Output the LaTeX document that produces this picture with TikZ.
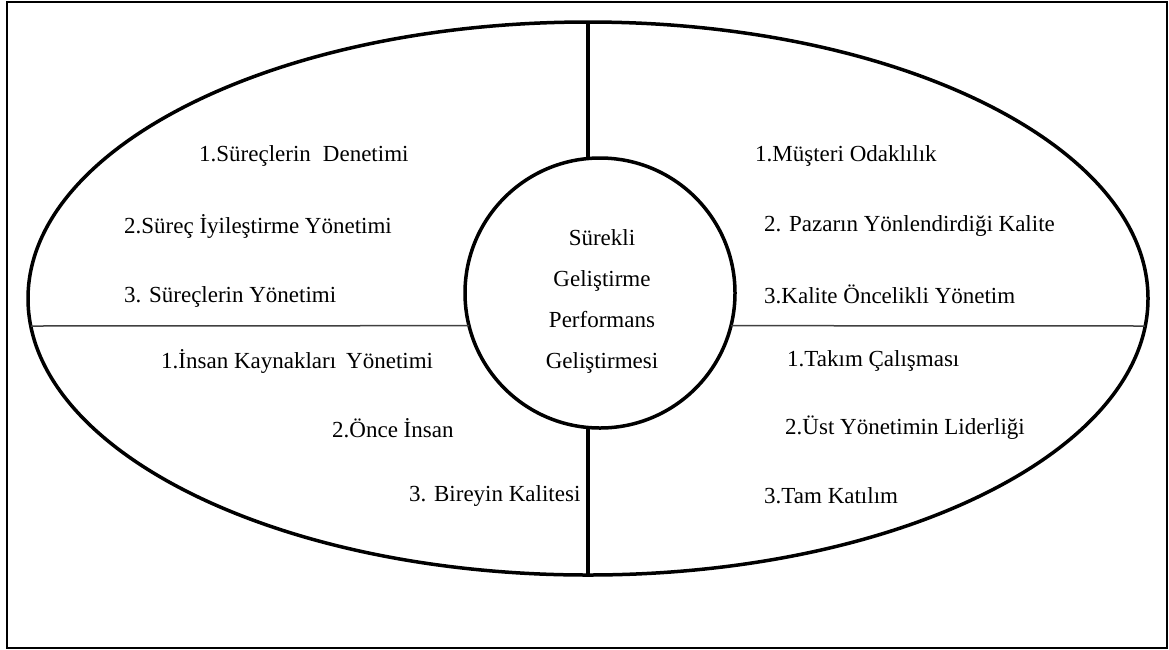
\documentclass[tikz,border=0pt]{standalone}
\usepackage{fontspec}
\setmainfont{Liberation Serif}
\usetikzlibrary{shapes.geometric,calc}

\begin{document}
\begin{tikzpicture}[x=1pt,y=-1pt,
    ring/.style={draw,line width=3.5pt,inner sep=0pt,outer sep=0pt},
    item/.style={anchor=west,inner sep=0pt,font=\fontsize{23}{27}\selectfont}]
  \useasboundingbox (0,0) rectangle (1169,649);
  \draw[line width=2pt] (7,1.5) rectangle (1167,647.5);

  % outer ellipse and the core circle
  \node[ring,ellipse,minimum width=1120pt,minimum height=553pt] (ell) at (588,298.5) {};
  \node[ring,circle,minimum size=270pt] (circ) at (600,293) {};
  \node[align=center,inner sep=0pt,font=\fontsize{23}{41}\selectfont] (core) at (602,301)
    {Sürekli\\Geliştirme\\Performans\\Geliştirmesi};

  % dividing lines
  \coordinate (hl) at ($(ell.center)+(-557.2,27.5)$);
  \coordinate (hr) at ($(ell.center)+(557.2,27.5)$);
  \draw[line width=4.5pt] (ell.north) -- (ell.north |- circ.north);
  \draw[line width=4.5pt] (ell.south |- circ.south) -- (ell.south);
  \draw[line width=1.5pt,black!75] (hl) -- (circ.194.1);
  \draw[line width=1.5pt,black!75] (circ.-14.1) -- (hr);

  % upper left
  \node[item] (ul1) at (199,156) {1.Süreçlerin\hspace{12pt}Denetimi};
  \node[item] (ul2) at (124,226) {2.Süreç İyileştirme Yönetimi};
  \node[item] (ul3) at (124,297) {3. Süreçlerin Yönetimi};
  % upper right
  \node[item] (ur1) at (755,156) {1.Müşteri Odaklılık};
  \node[item] (ur2) at (764,226) {2. Pazarın Yönlendirdiği Kalite};
  \node[item] (ur3) at (764,294) {3.Kalite Öncelikli Yönetim};
  % lower left
  \node[item] (ll1) at (161,361) {1.İnsan Kaynakları\hspace{10pt}Yönetimi};
  \node[item] (ll2) at (332,428) {2.Önce İnsan};
  \node[item] (ll3) at (409,496) {3. Bireyin Kalitesi};
  % lower right
  \node[item] (lr1) at (787,361) {1.Takım Çalışması};
  \node[item] (lr2) at (785,428) {2.Üst Yönetimin Liderliği};
  \node[item] (lr3) at (764,496) {3.Tam Katılım};
\end{tikzpicture}
\end{document}
